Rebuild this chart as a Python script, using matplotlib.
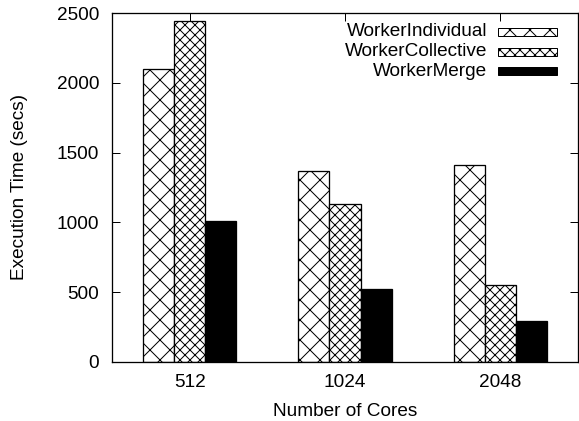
import matplotlib
matplotlib.use('Agg')
import matplotlib.pyplot as plt
from matplotlib.patches import Rectangle
import numpy as np

# ---- data ----
cores = ['512', '1024', '2048']
series = ['WorkerIndividual', 'WorkerCollective', 'WorkerMerge']
individual = [2100, 1365, 1410]
collective = [2440, 1130, 550]
merge = [1010, 520, 295]
yticks = [0, 500, 1000, 1500, 2000, 2500]

# ---- figure geometry (pixels) ----
DPI = 60
W, H = 579, 421
L, R, T, B = 112, 578, 13, 362


def px(p):
    return p * 72.0 / DPI


plt.rcParams['font.family'] = ['Liberation Sans', 'DejaVu Sans']
plt.rcParams['hatch.linewidth'] = px(1.0)
plt.rcParams['hatch.color'] = 'black'

FS = px(19)

fig = plt.figure(figsize=(W / DPI, H / DPI), dpi=DPI)
ax = fig.add_axes([L / W, 1 - B / H, (R - L) / W, (B - T) / H])

x = np.arange(len(cores))
bw = 0.2
styles = [dict(facecolor='white', hatch='x'),
          dict(facecolor='white', hatch='xx'),
          dict(facecolor='black')]
for i, (vals, st) in enumerate(zip([individual, collective, merge], styles)):
    ax.bar(x + (i - 1) * bw, vals, width=bw, edgecolor='black',
           linewidth=px(1.3), zorder=2, **st)

ax.set_xlim(-0.5, 2.5)
ax.set_ylim(0, 2500)
ax.set_xticks(x, cores)
ax.set_yticks(yticks)
ax.tick_params(direction='in', length=px(8), width=px(1), top=True,
               right=True, labelsize=FS)
ax.tick_params(axis='x', pad=px(12))
ax.tick_params(axis='y', pad=px(13))
for s in ax.spines.values():
    s.set_linewidth(px(1.3))
    s.set_zorder(3)

ax.set_xlabel('Number of Cores', fontsize=FS)
ax.xaxis.set_label_coords(0.5, (B - 411) / (B - T))
ax.xaxis.label.set_va('center')
ax.set_ylabel('Execution Time (secs)', fontsize=FS)
ax.yaxis.set_label_coords((20 - L) / (R - L), 0.5)
ax.yaxis.label.set_va('center')

# ---- legend (manual, gnuplot style: text right-aligned, sample on right) ----
for i, (name, st) in enumerate(zip(series, styles)):
    yc = 32 + i * 19.5
    ax.text((487 - L) / (R - L), (B - yc) / (B - T), name, ha='right',
            va='center', transform=ax.transAxes, fontsize=FS, zorder=4)
    ax.add_patch(Rectangle(((498 - L) / (R - L), (B - yc - 4) / (B - T)),
                           59 / (R - L), 8 / (B - T), transform=ax.transAxes,
                           edgecolor='black', linewidth=px(1), zorder=4,
                           **st))

fig.savefig('out.png', dpi=DPI)
